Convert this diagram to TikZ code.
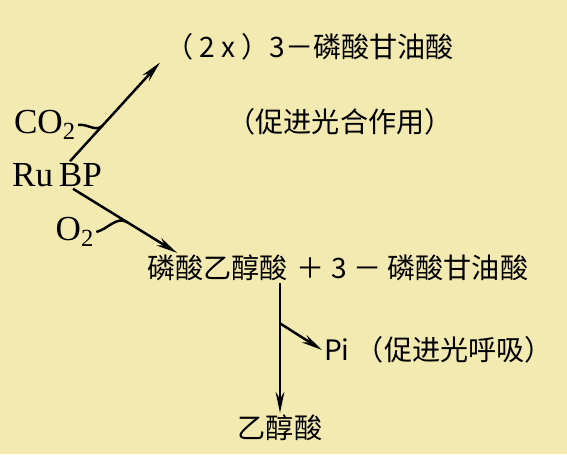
\documentclass[tikz,border=0pt]{standalone}
\usepackage{fontspec}
\setmainfont{Liberation Serif}
\newfontfamily\cjk{Noto Sans CJK SC}
\usetikzlibrary{arrows.meta, positioning}
\definecolor{paper}{RGB}{243,234,178}

\begin{document}
\begin{tikzpicture}
[x=0.02cm, y=-0.02cm,
ChemNode/.style={inner sep=1pt, font=\fontsize{20}{24}\selectfont},
HanNode/.style={inner sep=1pt, font=\cjk\fontsize{16}{19}\selectfont},
Reaction/.style={line width=1.4pt, -{Stealth[length=12pt,width=5pt]}},
Branch/.style={line width=1.4pt}
]
\fill[paper] (0,0) rectangle (567,454);
\useasboundingbox (0,0) rectangle (567,454);

\node[ChemNode] (RuBP) at (57,175) {Ru\,BP};
\node[ChemNode] (CO2) at (45,125) {CO\textsubscript{2}};
\node[ChemNode] (O2) at (75,232) {O\textsubscript{2}};
\node[HanNode, anchor=west] (PGA) at (163,47) {（ 2 x ）3－磷酸甘油酸};
\node[HanNode] (Photo) at (340,122) {（促进光合作用）};
\node[HanNode, anchor=west] (PG) at (145,268) {磷酸乙醇酸};
\node[HanNode, right=0.1cm of PG] (Plus) {＋ 3 － 磷酸甘油酸};
\node[HanNode, anchor=west] (Pi) at (322,350) {Pi （促进光呼吸）};
\node[HanNode] (Glyc) at (280,428) {乙醇酸};

% carboxylation
\draw[Reaction] ([xshift=0.26cm]RuBP.north) -- coordinate[pos=0.36] (CO2in) ([xshift=-0.06cm]PGA.south west);
\draw[Branch] (CO2.east) to[out=10, in=-135] (CO2in);

% oxygenation
\draw[Reaction] ([xshift=0.32cm]RuBP.south) -- coordinate[pos=0.52] (O2in) ([xshift=0.64cm]PG.north west);
\draw[Branch] (O2.east) to[out=15, in=152] (O2in);

% phosphatase step
\draw[Reaction] (Glyc.north |- PG.south) -- coordinate[pos=0.31] (PiOut) (Glyc.north);
\draw[Reaction] (PiOut) -- (Pi.west);
\end{tikzpicture}
\end{document}
